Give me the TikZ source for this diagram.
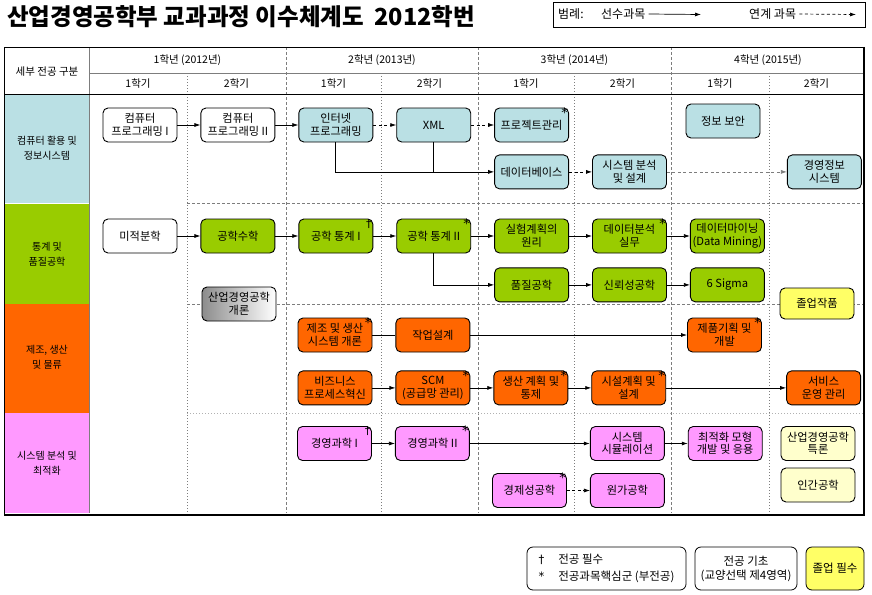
\documentclass[tikz,border=0pt]{standalone}
\usepackage{fontspec}
\setmainfont{Noto Sans CJK KR}
\newfontfamily\markfont{DejaVu Sans}
\usepackage{tikz}
\usetikzlibrary{arrows.meta,positioning}
\definecolor{itblue}{RGB}{186,224,228}
\definecolor{stgreen}{RGB}{153,204,0}
\definecolor{mforange}{RGB}{255,102,0}
\definecolor{sypink}{RGB}{255,153,255}
\definecolor{gradyellow}{RGB}{255,255,102}
\definecolor{baseyellow}{RGB}{255,255,204}
\definecolor{gridgray}{RGB}{125,125,125}

\begin{document}
\begin{tikzpicture}[
      x=1pt, y=-1pt,
      node distance=23pt,
      course/.style={draw, line width=0.9pt, rounded corners=5pt, minimum height=34pt, minimum width=74pt,
        inner sep=1pt, align=center, font=\fontsize{11.2}{12.5}\selectfont},
      plain/.style={course, fill=white},
      it/.style={course, fill=itblue},
      st/.style={course, fill=stgreen},
      mf/.style={course, fill=mforange},
      sy/.style={course, fill=sypink},
      grad/.style={course, fill=gradyellow},
      base/.style={course, fill=baseyellow},
      intro/.style={course, left color=black!45, right color=white},
      core/.style={label={[anchor=north east, inner sep=1pt, yshift=1pt, font=\markfont\fontsize{13}{13}\selectfont]north east:*}},
      majreq/.style={label={[anchor=north east, inner sep=1.5pt, yshift=1pt, font=\markfont\fontsize{11}{11}\selectfont]north east:†}},
      arr/.style={-{Latex[length=6pt, width=4pt]}, line width=0.7pt},
      link/.style={arr, dash pattern=on 3pt off 2.5pt},
      yearline/.style={gridgray, dash pattern=on 3pt off 2pt, line width=0.6pt},
      semline/.style={gridgray, dash pattern=on 1pt off 2pt, line width=0.6pt},
      hdr/.style={font=\fontsize{10.5}{12}\selectfont},
      band/.style={align=center, font=\fontsize{10}{15}\selectfont},
      legbox/.style={draw, line width=0.8pt, rounded corners=6pt, minimum height=43pt, align=center,
        font=\fontsize{11.5}{14}\selectfont},
      legtext/.style={anchor=west, inner sep=0, font=\fontsize{12}{13}\selectfont},
    ]
    \useasboundingbox (0,0) rectangle (872,594);

    \node[font=\bfseries\fontsize{23.5}{25}\selectfont, anchor=west, inner sep=0] (title) at (7,17)
      {산업경영공학부 교과과정 이수체계도\ \ 2012학번};

    \node[draw, line width=0.8pt, minimum width=312pt, minimum height=25pt, inner sep=0] (legtop) at (709,14.5) {};
    \node[legtext] (legname) at (558,14) {범례:};
    \node[legtext] (legpre) at (601,14) {선수과목};
    \node[legtext] (leglink) at (749,14) {연계 과목};
    \coordinate (legpreend) at (701,14.5);
    \coordinate (leglinkend) at (856,14.5);
    \draw[arr] ([xshift=3pt]legpre.east) -- (legpreend);
    \draw[link] ([xshift=3pt]leglink.east) -- (leglinkend);

    \fill[itblue] (5,94) rectangle (89,203);
    \fill[stgreen] (5,203) rectangle (89,304);
    \fill[mforange] (5,304) rectangle (89,413);
    \fill[sypink] (5,413) rectangle (89,513);
    \draw[white, line width=1pt] (5,203) -- (89,203);

    \foreach \x in {286,478,671}
      \draw[yearline] (\x,47) -- (\x,513);
    \foreach \x in {187,381,574,769}
      \draw[semline] (\x,73) -- (\x,513);
    \draw[yearline] (187,203) -- (864,203);
    \draw[yearline] (187,304) -- (864,304);
    \draw[semline, gridgray!60] (187,413) -- (864,413);
    \draw[gridgray, line width=0.6pt] (89,47) -- (89,513);
    \draw[gridgray, line width=0.6pt] (89,73) -- (864,73);
    \draw[line width=0.7pt] (4,94) -- (864,94);
    \draw[line width=0.8pt] (4,47) rectangle (864,514);
    \draw[line width=2.2pt] (864,47) -- (864,515.1) -- (4,515.1);

    \node[hdr] (hdrsub) at (47,72) {세부 전공 구분};
    \node[hdr] (yr1) at (187.5,60) {1학년 (2012년)};
    \node[hdr] (yr2) at (382,60) {2학년 (2013년)};
    \node[hdr] (yr3) at (574.5,60) {3학년 (2014년)};
    \node[hdr] (yr4) at (768,60) {4학년 (2015년)};
    \foreach \x/\s [count=\i] in {138/1,236.5/2,333.5/1,429.5/2,526/1,622.5/2,720/1,816.5/2}
      \node[hdr] (sem\i) at (\x,84) {\s{}학기};

    \node[band] (bandit) at (47,148) {컴퓨터 활용 및\\정보시스템};
    \node[band] (bandst) at (47,254) {통계 및\\품질공학};
    \node[band] (bandmf) at (47,357) {제조, 생산\\및 물류};
    \node[band] (bandsy) at (47,463) {시스템 분석 및\\최적화};

    \node[plain] (cp1) at (140,125) {컴퓨터\\프로그래밍 I};
    \node[plain, right=of cp1] (cp2) {컴퓨터\\프로그래밍 II};
    \node[it, right=of cp2] (inet) {인터넷\\프로그래밍};
    \node[it, right=of inet] (xml) {XML};
    \node[it, core, right=of xml] (pm) {프로젝트관리};
    \node[it] (isec) at (723,121) {정보 보안};
    \node[it, below=12pt of pm] (db) {데이터베이스};
    \node[it, right=of db] (sysan) {시스템 분석\\및 설계};
    \node[it, right=120pt of sysan] (mis) {경영정보\\시스템};

    \node[plain] (calc) at (140,236) {미적분학};
    \node[st, right=of calc] (emath) {공학수학};
    \node[st, majreq, right=of emath] (stat1) {공학 통계 I};
    \node[st, core, right=of stat1] (stat2) {공학 통계 II};
    \node[st, right=of stat2] (doe) {실험계획의\\원리};
    \node[st, core, right=of doe] (da) {데이터분석\\실무};
    \node[st, right=of da] (dm) {데이터마이닝\\(Data Mining)};
    \node[st, below=14pt of doe] (qe) {품질공학};
    \node[st, right=of qe] (rel) {신뢰성공학};
    \node[st, right=of rel] (sigma) {6 Sigma};
    \node[grad, minimum height=31pt] (capst) at (817,303.5) {졸업작품};
    \node[intro] (iemintro) at (239,304) {산업경영공학\\개론};

    \node[mf, core] (mfgsys) at (335,335) {제조 및 생산\\시스템 개론};
    \node[mf, right=of mfgsys] (wd) {작업설계};
    \node[mf, core] (pd) at (724.5,335) {제품기획 및\\개발};
    \node[mf, below=18pt of mfgsys] (bpr) {비즈니스\\프로세스혁신};
    \node[mf, core, right=of bpr] (scm) {SCM\\(공급망 관리)};
    \node[mf, core, right=of scm] (ppc) {생산 계획 및\\통제};
    \node[mf, core, right=of ppc] (fpd) {시설계획 및\\설계};
    \node[mf, right=120pt of fpd] (som) {서비스\\운영 관리};

    \node[sy, majreq] (ms1) at (334.5,443.5) {경영과학 I};
    \node[sy, core, right=of ms1] (ms2) {경영과학 II};
    \node[sy, right=120pt of ms2] (sim) {시스템\\시뮬레이션};
    \node[sy, right=of sim] (opt) {최적화 모형\\개발 및 응용};
    \node[base] (iemsem) at (818,443.5) {산업경영공학\\특론};
    \node[sy, core] (econ) at (529.5,490.5) {경제성공학};
    \node[sy, right=of econ] (cost) {원가공학};
    \node[base] (hf) at (818,485) {인간공학};

    \draw[arr] (cp1) -- (cp2);
    \draw[arr] (cp2) -- (inet);
    \draw[link] (inet) -- (xml);
    \draw[link] (xml) -- (pm);
    \draw[arr] (inet.south) |- (db.west);
    \draw[line width=0.7pt] (xml.south) -- (xml.south |- db.west);
    \draw[link] (db) -- (sysan);
    \draw[link, gridgray] (sysan) -- (mis);

    \draw[arr] (calc) -- (emath);
    \draw[arr] (emath) -- (stat1);
    \draw[arr] (stat1) -- (stat2);
    \draw[arr] (stat2) -- (doe);
    \draw[arr] (doe) -- (da);
    \draw[arr] (da) -- (dm);
    \draw[arr] (stat2.south) |- (qe.west);
    \draw[arr] (qe) -- (rel);
    \draw[arr] (rel) -- (sigma);

    \draw[line width=0.7pt] (mfgsys) -- (wd);
    \draw[arr] (wd) -- (pd);
    \draw[arr] (bpr) -- (scm);
    \draw[arr] (scm) -- (ppc);
    \draw[arr] (ppc) -- (fpd);
    \draw[arr] (fpd) -- (som);

    \draw[arr] (ms1) -- (ms2);
    \draw[arr] (ms2) -- (sim);
    \draw[arr] (sim) -- (opt);
    \draw[link] (econ) -- (cost);

    \node[legbox, minimum width=159pt] (legreq) at (606.5,568.5)
      {\renewcommand{\arraystretch}{1.2}%
       \begin{tabular}{@{}l@{\hspace{14pt}}l@{}}{\markfont †}&전공 필수\\{\markfont *}&전공과목핵심군 (부전공)\end{tabular}};
    \node[legbox, minimum width=102pt] (legbase) at (746,568.5) {전공 기초\\(교양선택 제4영역)};
    \node[legbox, minimum width=58pt, fill=gradyellow] (leggrad) at (835,568.5) {졸업 필수};
  \end{tikzpicture}
\end{document}
